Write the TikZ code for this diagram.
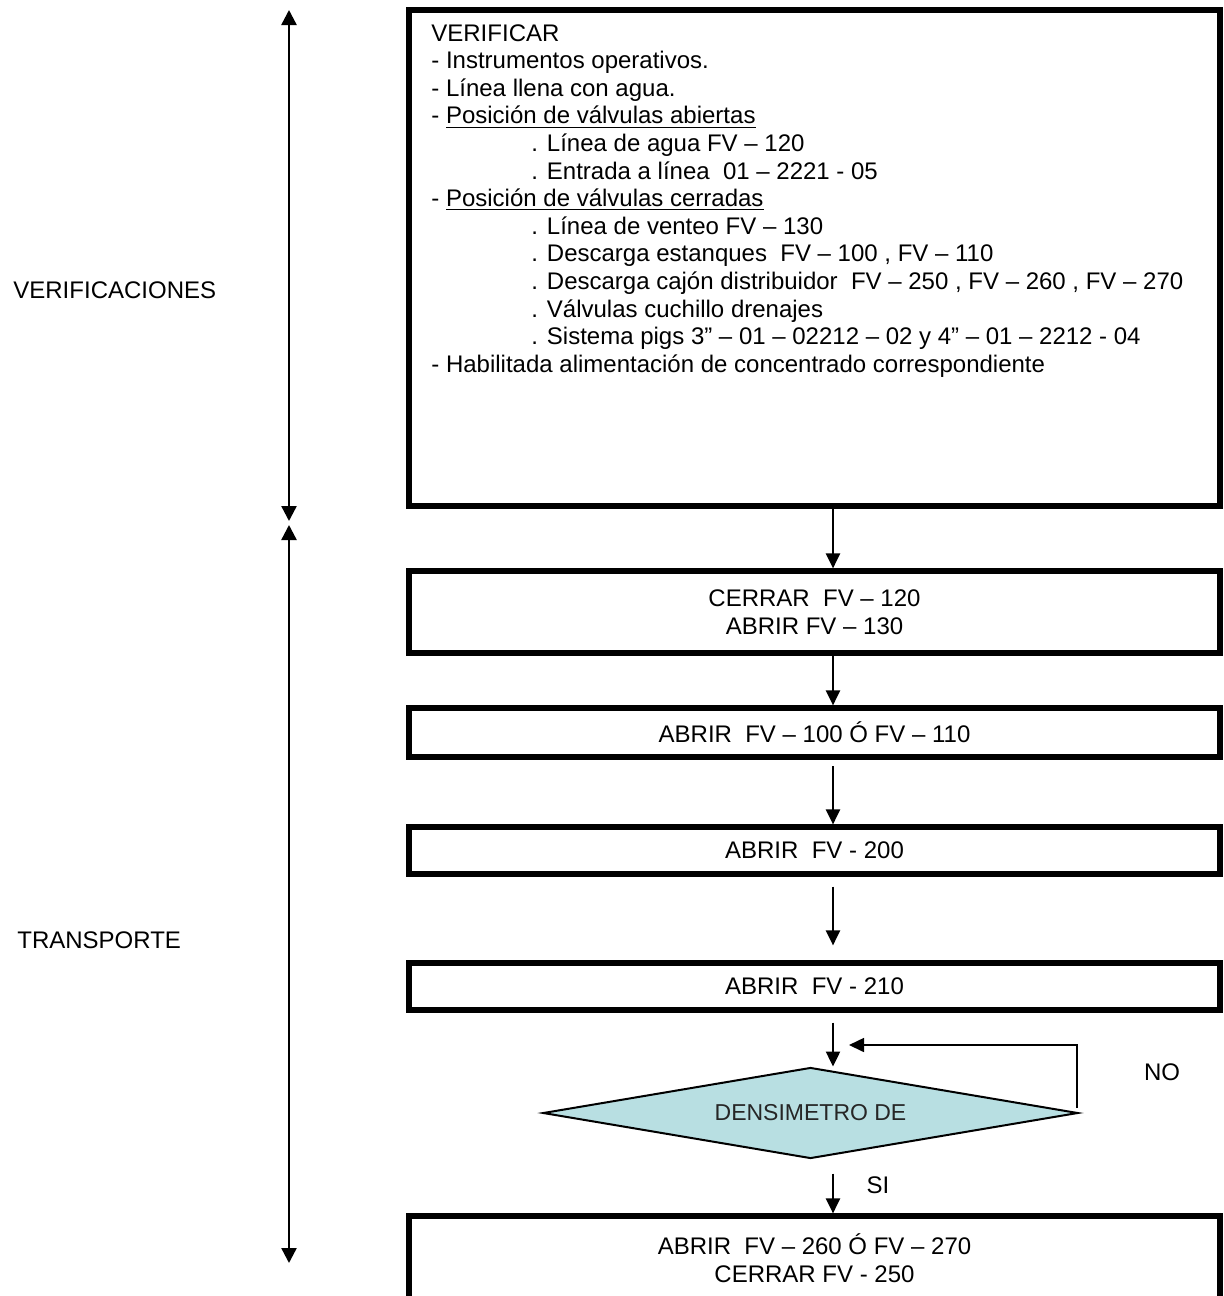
\documentclass[tikz,border=0pt]{standalone}
\usepackage{fontspec}
\setmainfont{Liberation Sans}
\usetikzlibrary{arrows.meta, shapes.geometric}

\definecolor{densblue}{RGB}{184,223,226}
\newcommand{\valind}{\hspace*{50pt}}

\begin{document}
\begin{tikzpicture}[x=0.5pt, y=-0.5pt,
                    font=\fontsize{12pt}{13.8pt}\selectfont,
                    box/.style={draw, line width=2.6pt, rectangle, minimum width=405.5pt, align=center},
                    arr/.style={-{Triangle[length=7.5pt, width=7pt]}, line width=1.2pt},
                    twoway/.style={{Triangle[length=7.5pt, width=7.5pt]}-{Triangle[length=7.5pt, width=7.5pt]}, line width=1.2pt},
                    lbl/.style={anchor=west, inner sep=0pt}
                    ]
    \useasboundingbox (0,0) rectangle (1224,1296);

    \coordinate (vtop) at (289,10);
    \coordinate (vmid) at (289,521);
    \coordinate (tmid) at (289,525);
    \coordinate (tbot) at (289,1263);
    \coordinate (flow) at (833,0);
    \coordinate (back) at (849,1045);

    \node[box, minimum height=248pt] (verif) at (814.5,258) {};
    \node[anchor=north west, inner sep=0pt, align=left] (checks) at (431,24) {VERIFICAR\\
        - Instrumentos operativos.\\
        - Línea llena con agua.\\
        - \underline{Posición de válvulas abiertas}\\
        \valind. Línea de agua FV – 120\\
        \valind. Entrada a línea~ 01 – 2221 - 05\\
        - \underline{Posición de válvulas cerradas}\\
        \valind. Línea de venteo FV – 130\\
        \valind. Descarga estanques~ FV – 100 , FV – 110\\
        \valind. Descarga cajón distribuidor~ FV – 250 , FV – 260 , FV – 270\\
        \valind. Válvulas cuchillo drenajes\\
        \valind. Sistema pigs 3” – 01 – 02212 – 02 y 4” – 01 – 2212 - 04\\
        - Habilitada alimentación de concentrado correspondiente};

    \node[box, minimum height=41pt] (cerrar) at (814.5,612) {CERRAR~ FV – 120\\ABRIR FV – 130};
    \node[box, minimum height=24.5pt] (abrir1) at (814.5,732.5) {ABRIR~ FV – 100 Ó FV – 110};
    \node[box, minimum height=23.5pt] (abrir2) at (814.5,850.5) {ABRIR~ FV - 200};
    \node[box, minimum height=23.5pt] (abrir3) at (814.5,986.5) {ABRIR~ FV - 210};
    \node[draw, line width=1pt, diamond, aspect=5.88, fill=densblue, minimum width=267.5pt, minimum height=45.5pt,
          inner sep=0pt, font=\fontsize{11.5pt}{13pt}\selectfont, text=black!85] (dens) at (810.5,1113) {DENSIMETRO DE};
    \node[box, minimum height=42pt] (abrir4) at (814.5,1258) {ABRIR~ FV – 260 Ó FV – 270\\CERRAR FV - 250};

    \node[lbl] (verlbl) at (13,290) {VERIFICACIONES};
    \node[lbl] (translbl) at (17,940) {TRANSPORTE};
    \node (no) at (1162,1072) {NO};
    \node (si) at (878,1185) {SI};

    \draw[twoway] (vtop) -- (vmid);
    \draw[twoway] (tmid) -- (tbot);

    \draw[arr] (verif.south -| flow) -- (cerrar.north -| flow);
    \draw[arr] (cerrar.south -| flow) -- (abrir1.north -| flow);
    \draw[arr, shorten <=3.25pt] (abrir1.south -| flow) -- (abrir2.north -| flow);
    \draw[arr, shorten <=5pt, shorten >=7.5pt] (abrir2.south -| flow) -- (abrir3.north -| flow);
    \draw[arr, shorten <=5pt] (abrir3.south -| flow) -- (dens.north -| flow);
    \draw[arr, shorten <=7pt] (dens.south -| flow) -- (abrir4.north -| flow);
    \draw[arr, line width=0.8pt] ([shift={(-1pt,2.5pt)}]dens.east) |- (back);
\end{tikzpicture}
\end{document}
